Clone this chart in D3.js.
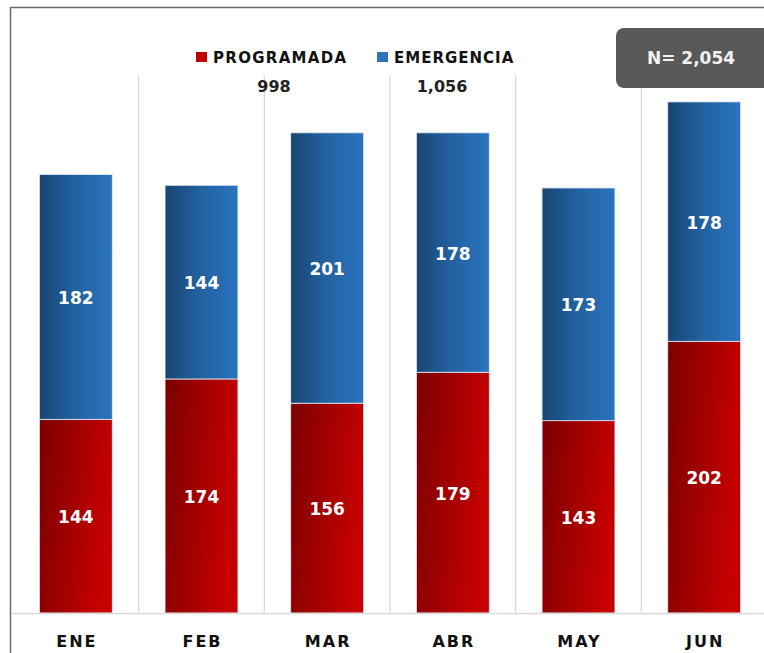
<!DOCTYPE html>
<html>
<head>
<meta charset="utf-8">
<script src="https://cdn.jsdelivr.net/npm/d3@7"></script>
<style>
  body { margin: 0; background: #fff; }
  text { font-family: "DejaVu Sans", sans-serif; font-weight: bold; }
</style>
</head>
<body>
<div id="chart-area"></div>
<script>
// months and the two series
var months = ["ENE", "FEB", "MAR", "ABR", "MAY", "JUN"];
var programada = [144, 174, 156, 179, 143, 202];
var emergencia = [182, 144, 201, 178, 173, 178];
var seriesNames = ["PROGRAMADA", "EMERGENCIA"];

var width = 764, height = 653;

var svg = d3.select("#chart-area").append("svg")
    .attr("width", width)
    .attr("height", height);

var defs = svg.append("defs");
var red = defs.append("linearGradient").attr("id", "gRed")
    .attr("x1", "0%").attr("y1", "0%").attr("x2", "100%").attr("y2", "25%");
red.append("stop").attr("offset", "0%").attr("stop-color", "#7c0000");
red.append("stop").attr("offset", "100%").attr("stop-color", "#c60000");
var blue = defs.append("linearGradient").attr("id", "gBlue")
    .attr("x1", "0%").attr("y1", "0%").attr("x2", "100%").attr("y2", "0%");
blue.append("stop").attr("offset", "0%").attr("stop-color", "#184571");
blue.append("stop").attr("offset", "45%").attr("stop-color", "#22609e");
blue.append("stop").attr("offset", "100%").attr("stop-color", "#2a74bf");

// frame
svg.append("path")
    .attr("d", "M10.5,653 V7.5 H764")
    .attr("fill", "none")
    .attr("stroke", "#6b6b6b")
    .attr("stroke-width", 1.5);

var x = d3.scaleBand()
    .domain(months)
    .range([13, 767])
    .paddingInner(0.42)
    .paddingOuter(0.21);

var y = d3.scaleLinear()
    .domain([0, 400])
    .range([613, 75]);

// vertical separators
var step = x.step();
svg.selectAll("line.sep")
    .data(months.slice(1))
    .enter()
    .append("line")
    .attr("class", "sep")
    .attr("x1", d => x(d) - x.paddingInner() * step / 2)
    .attr("x2", d => x(d) - x.paddingInner() * step / 2)
    .attr("y1", y(400))
    .attr("y2", y(0))
    .attr("stroke", "#d9d9d9")
    .attr("stroke-width", 1.2);

var data = months.map(function(m, i) {
    return { month: m, PROGRAMADA: programada[i], EMERGENCIA: emergencia[i] };
});
var stacked = d3.stack().keys(seriesNames)(data);
var fills = { PROGRAMADA: "url(#gRed)", EMERGENCIA: "url(#gBlue)" };

var layers = svg.selectAll("g.layer")
    .data(stacked)
    .enter()
    .append("g")
    .attr("class", "layer");

layers.selectAll("rect")
    .data(d => d.map(v => ({ key: d.key, v: v })))
    .enter()
    .append("rect")
    .attr("x", d => x(d.v.data.month))
    .attr("width", x.bandwidth())
    .attr("y", d => y(d.v[1]))
    .attr("height", d => y(d.v[0]) - y(d.v[1]))
    .attr("fill", d => fills[d.key])
    .attr("stroke", "#e4e9f0")
    .attr("stroke-width", 0.8);

layers.selectAll("text")
    .data(d => d.map(v => ({ key: d.key, v: v })))
    .enter()
    .append("text")
    .attr("x", d => x(d.v.data.month) + x.bandwidth() / 2)
    .attr("y", d => (y(d.v[0]) + y(d.v[1])) / 2 + 7)
    .attr("text-anchor", "middle")
    .attr("fill", "#fff")
    .style("font-size", "17px")
    .text(d => d.v[1] - d.v[0]);

// baseline
svg.append("line")
    .attr("x1", 11).attr("x2", width)
    .attr("y1", y(0) + 0.5).attr("y2", y(0) + 0.5)
    .attr("stroke", "#d9d9d9")
    .attr("stroke-width", 1.5);

// x axis labels
svg.selectAll("text.cat")
    .data(months)
    .enter()
    .append("text")
    .attr("class", "cat")
    .attr("x", d => x(d) + x.bandwidth() / 2 + 1)
    .attr("y", 647)
    .attr("text-anchor", "middle")
    .attr("fill", "#111")
    .style("font-size", "16px")
    .style("letter-spacing", "2px")
    .text(d => d);

// legend
var legend = svg.append("g");
var legendItems = [
    { name: "PROGRAMADA", color: "#c00000", x: 196, sp: "1.3px" },
    { name: "EMERGENCIA", color: "#2e75b6", x: 377, sp: "1px" }
];
legend.selectAll("rect")
    .data(legendItems)
    .enter()
    .append("rect")
    .attr("x", d => d.x)
    .attr("y", 52)
    .attr("width", 11)
    .attr("height", 10)
    .attr("fill", d => d.color);
legend.selectAll("text")
    .data(legendItems)
    .enter()
    .append("text")
    .attr("x", d => d.x + 17)
    .attr("y", 63)
    .attr("fill", "#111")
    .style("font-size", "15px")
    .style("letter-spacing", d => d.sp)
    .text(d => d.name);

// series totals
var totals = [d3.sum(programada), d3.sum(emergencia)];
var fmt = d3.format(",");
svg.selectAll("text.total")
    .data(totals)
    .enter()
    .append("text")
    .attr("class", "total")
    .attr("x", (d, i) => [274, 442][i])
    .attr("y", 92)
    .attr("text-anchor", "middle")
    .attr("fill", "#222")
    .style("font-size", "16px")
    .text(d => fmt(d));

// N box
svg.append("rect")
    .attr("x", 616).attr("y", 28)
    .attr("width", 170).attr("height", 60)
    .attr("rx", 8)
    .attr("fill", "#595959");
svg.append("text")
    .attr("x", 691).attr("y", 64)
    .attr("text-anchor", "middle")
    .attr("fill", "#f2f2f2")
    .style("font-size", "17px")
    .text("N= " + fmt(d3.sum(totals)));
</script>
</body>
</html>
